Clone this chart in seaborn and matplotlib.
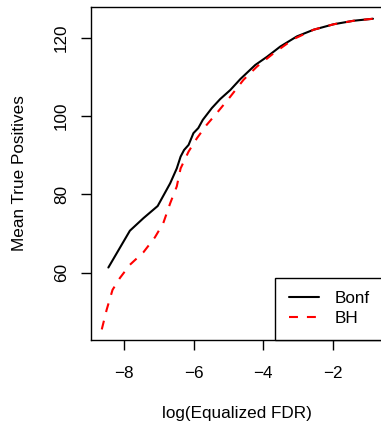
import numpy as np
import pandas as pd
import matplotlib
matplotlib.use("Agg")
import matplotlib.pyplot as plt
import seaborn as sns
from matplotlib.lines import Line2D

# Mean true positives versus log of the equalized false discovery rate
bonf_x = [-8.46, -7.84, -7.45, -7.04, -6.68, -6.49, -6.38, -6.28, -6.15, -6.01,
          -5.87, -5.74, -5.48, -5.24, -4.95, -4.66, -4.23, -3.89, -3.51, -3.03,
          -2.55, -1.97, -1.39, -0.84]
bonf_y = [61.3, 70.7, 73.9, 77.0, 82.8, 86.6, 89.6, 91.3, 92.6, 95.6,
          96.9, 99.0, 102.0, 104.3, 106.6, 109.4, 113.0, 115.1, 117.7, 120.3,
          122.0, 123.4, 124.3, 124.8]

bh_x = [-8.65, -8.51, -8.34, -8.13, -7.84, -7.45, -7.12, -6.88, -6.68, -6.49,
        -6.38, -6.15, -5.91, -5.63, -5.34, -4.95, -4.57, -4.18, -3.70, -3.13,
        -2.55, -1.97, -1.39, -0.84]
bh_y = [45.5, 50.5, 55.6, 58.6, 62.0, 65.2, 69.0, 72.6, 77.7, 82.0,
        86.6, 90.9, 94.3, 97.7, 100.7, 104.9, 109.2, 112.6, 116.0, 119.6,
        122.0, 123.4, 124.3, 124.8]

methods = ["Bonf", "BH"]
x_ticks = [-8, -6, -4, -2]
y_ticks = [60, 80, 100, 120]

df = pd.concat([
    pd.DataFrame({"x": bonf_x, "y": bonf_y, "method": "Bonf"}),
    pd.DataFrame({"x": bh_x, "y": bh_y, "method": "BH"}),
], ignore_index=True)

sns.set_style("ticks")
plt.rcParams["font.family"] = ["Liberation Sans", "DejaVu Sans"]
plt.rcParams["text.color"] = "black"
plt.rcParams["axes.labelcolor"] = "black"
plt.rcParams["xtick.color"] = "black"
plt.rcParams["ytick.color"] = "black"

FS = 12.3

fig = plt.figure(figsize=(3.81, 4.25), dpi=100)
ax = fig.add_axes([91 / 381, 85 / 425, 292.4 / 381, 333 / 425])

sns.lineplot(data=df, x="x", y="y", hue="method", style="method",
             hue_order=methods, style_order=methods,
             palette={"Bonf": "black", "BH": "red"},
             dashes={"Bonf": "", "BH": (4.3, 4.3)},
             estimator=None, sort=False, linewidth=1.5, ax=ax, legend=False)

ax.set_xlim(-8.96, -0.54)
ax.set_ylim(42.8, 127.8)
ax.set_xticks(x_ticks)
ax.set_xticklabels(["\u22128", "\u22126", "\u22124", "\u22122"])
ax.set_yticks(y_ticks)
ax.set_yticklabels([str(v) for v in y_ticks], rotation=90, va="center")

for s in ax.spines.values():
    s.set_visible(True)
    s.set_color("black")
    s.set_linewidth(1.0)

ax.tick_params(axis="x", length=7.5, width=1.0, colors="black", pad=11.5, labelsize=FS)
ax.tick_params(axis="y", length=7.5, width=1.0, colors="black", pad=8.5, labelsize=FS)

ax.set_xlabel("log(Equalized FDR)", fontsize=FS, color="black")
ax.set_ylabel("Mean True Positives", fontsize=FS, color="black")
ax.xaxis.set_label_coords(0.5, -0.222)
ax.xaxis.label.set_va("center")
ax.yaxis.set_label_coords(-0.243, 0.5)
ax.yaxis.label.set_va("center")

handles = [Line2D([], [], color="black", lw=1.5),
           Line2D([], [], color="red", lw=1.5, dashes=(4.3, 4.3))]
leg = ax.legend(handles, methods, loc="lower right", bbox_to_anchor=(1, 0),
                borderaxespad=0, fontsize=FS, frameon=True, fancybox=False,
                edgecolor="black", framealpha=1, borderpad=0.8,
                handlelength=1.75, handletextpad=0.92, labelspacing=0.3)
leg.get_frame().set_linewidth(1.0)

fig.savefig("out.png", dpi=100)
